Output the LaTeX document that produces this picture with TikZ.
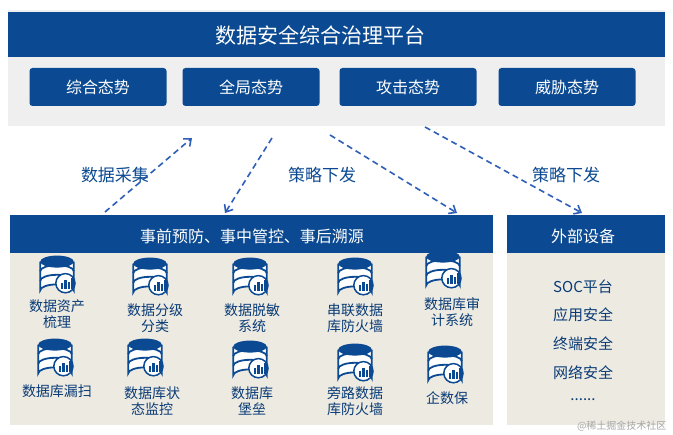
\documentclass[tikz,border=0pt]{standalone}
\usepackage{fontspec}
\setmainfont{Noto Sans CJK SC}
\usetikzlibrary{arrows.meta}
\definecolor{dblue}{HTML}{0B4A92}
\definecolor{pgray}{HTML}{EFEFEF}
\definecolor{beige}{HTML}{EDEAE2}
\definecolor{arr}{HTML}{2E5FB8}
\tikzset{
 bar/.style={fill=dblue,draw=none},
 btn/.style={fill=dblue,rounded corners=3pt,minimum width=137pt,minimum height=38pt,text=white,font=\fontsize{16}{16}\selectfont},
 lbl/.style={font=\fontsize{14}{16}\selectfont,text=dblue!80!black,align=center},
 arrlbl/.style={font=\fontsize{17}{17}\selectfont,text=dblue},
 dasharrow/.style={arr,line width=1.6pt,dash pattern=on 6pt off 4pt,-{Straight Barb[length=6pt,width=10pt]}},
 pics/db/.style={code={
  \begin{scope}[scale=1.2]
  \fill[white,draw=dblue,line width=1.8pt] (-14,-12) -- (-14,12) arc[start angle=180,end angle=360,x radius=14,y radius=5] -- (14,-12);
  \draw[dblue,line width=1.8pt] (-14,-4) arc[start angle=180,end angle=360,x radius=14,y radius=5];
  \draw[dblue,line width=1.8pt] (-14,4) arc[start angle=180,end angle=360,x radius=14,y radius=5];
  \fill[dblue] (0,-12) ellipse[x radius=14,y radius=5];
  \fill[white,draw=dblue,line width=1.5pt] (7,6) circle (8);
  \foreach \i/\h in {3/5,6/8,9/6,12/9}{\fill[dblue] (\i,11) rectangle ++(2,-\h);}
  \end{scope}
 }}
}
\begin{document}
\begin{tikzpicture}[x=1pt,y=-1pt]
\useasboundingbox (0,0) rectangle (673,435);
\fill[white] (0,0) rectangle (673,435);
% top panel
\fill[pgray] (8,10) rectangle (665,126);
\fill[bar] (8,12) rectangle (665,57);
\node[text=white,font=\fontsize{21}{21}\selectfont] (title) at (320,35) {数据安全综合治理平台};
\node[btn] (b1) at (98,87) {综合态势};
\node[btn] (b2) at (251,87) {全局态势};
\node[btn] (b3) at (408,87) {攻击态势};
\node[btn] (b4) at (567,87) {威胁态势};
% left panel
\fill[beige] (10,253) rectangle (493,425);
\fill[bar] (10,215) rectangle (493,253);
\node[text=white,font=\fontsize{16}{16}\selectfont] (lh) at (252,236) {事前预防、事中管控、事后溯源};
% right panel
\fill[beige] (507,253) rectangle (665,425);
\fill[bar] (507,215) rectangle (665,253);
\node[text=white,font=\fontsize{16}{16}\selectfont] (rh) at (583,236) {外部设备};
\node[lbl,font=\fontsize{15}{15}\selectfont] (r1) at (583,287) {SOC平台};
\node[lbl,font=\fontsize{15}{15}\selectfont] (r2) at (583,315) {应用安全};
\node[lbl,font=\fontsize{15}{15}\selectfont] (r3) at (583,344) {终端安全};
\node[lbl,font=\fontsize{15}{15}\selectfont] (r4) at (583,373) {网络安全};
\node[lbl,font=\fontsize{15}{15}\selectfont] (r5) at (583,400) {......};
% arrows
\coordinate (a1s) at (105,212); \coordinate (a1e) at (192,138);
\coordinate (a2s) at (272,138); \coordinate (a2e) at (225,213);
\coordinate (a3s) at (330,135); \coordinate (a3e) at (457,213);
\coordinate (a4s) at (425,127); \coordinate (a4e) at (582,213);
\draw[dasharrow] (a1s) -- (a1e);
\draw[dasharrow] (a2s) -- (a2e);
\draw[dasharrow] (a3s) -- (a3e);
\draw[dasharrow] (a4s) -- (a4e);
\node[arrlbl] (t1) at (115,175) {数据采集};
\node[arrlbl] (t2) at (322,175) {策略下发};
\node[arrlbl] (t3) at (566,175) {策略下发};
% icons row 1
\pic at (57,276) {db}; \pic at (150,278) {db}; \pic at (250,278) {db};
\pic at (355,278) {db}; \pic at (443,271) {db};
\node[lbl] (i1) at (57,314) {数据资产\\梳理};
\node[lbl] (i2) at (155,318) {数据分级\\分类};
\node[lbl] (i3) at (252,318) {数据脱敏\\系统};
\node[lbl] (i4) at (355,318) {串联数据\\库防火墙};
\node[lbl] (i5) at (452,312) {数据库审\\计系统};
% icons row 2
\pic at (55,359) {db}; \pic at (145,359) {db}; \pic at (250,361) {db};
\pic at (355,364) {db}; \pic at (445,366) {db};
\node[lbl] (j1) at (57,391) {数据库漏扫};
\node[lbl] (j2) at (152,401) {数据库状\\态监控};
\node[lbl] (j3) at (252,401) {数据库\\堡垒};
\node[lbl] (j4) at (355,401) {旁路数据\\库防火墙};
\node[lbl] (j5) at (447,398) {企数保};
\node[text=gray!70,font=\fontsize{10}{10}\selectfont,anchor=east] (wm) at (670,426) {@稀土掘金技术社区};
\end{tikzpicture}
\end{document}
